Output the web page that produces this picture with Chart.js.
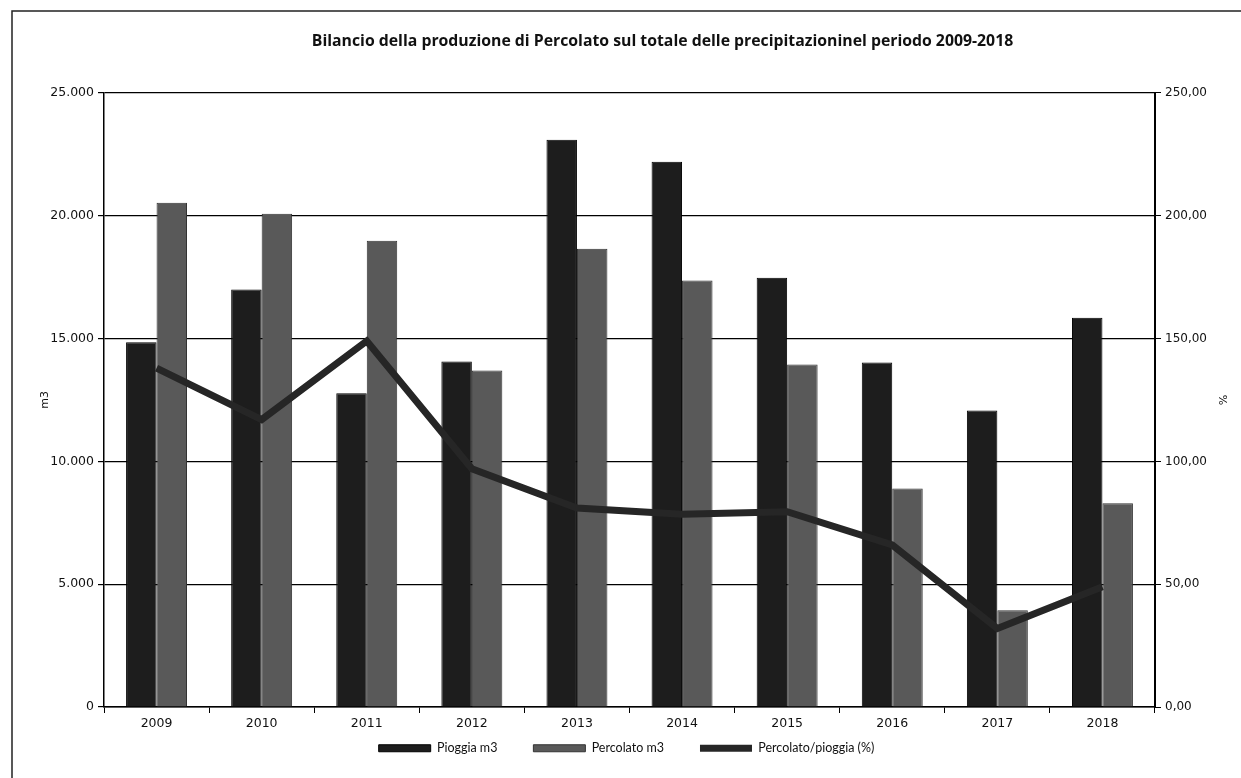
<!DOCTYPE html>
<html><head><meta charset="utf-8">
<script src="https://cdn.jsdelivr.net/npm/chart.js@4.4.1/dist/chart.umd.min.js"></script>
<style>html,body{margin:0;padding:0;background:#fff}#wrap{width:1241px;height:778px;position:relative}</style>
</head><body><div id="wrap"><canvas id="c" width="1241" height="778"></canvas></div>
<script>
const years = ["2009","2010","2011","2012","2013","2014","2015","2016","2017","2018"];
const pioggia = [14850,17000,12770,14070,23090,22200,17480,14030,12070,15850];
const percolato = [20530,20080,18980,13700,18660,17360,13940,8900,3940,8300];
const ratio = [138,117,149,97,81,78.5,79.5,66,32,49];
const leftTicks = [0,5000,10000,15000,20000,25000];
const rightTicks = [0,50,100,150,200,250];

const tickFont = {family:"'DejaVu Sans', Verdana, sans-serif", size:12.5};
const bg = {id:'bg', beforeDraw(c){const x=c.ctx;x.save();x.fillStyle='#fff';x.fillRect(0,0,c.width,c.height);
  x.strokeStyle='#222';x.lineWidth=1.5;x.beginPath();x.moveTo(12,778);x.lineTo(12,11);x.lineTo(1241,11);x.stroke();x.restore();}};
const tweak = {id:'tweak',
  beforeUpdate(c){const lg=c.legend; if(lg && !lg._patched){const orig=lg.fit.bind(lg); lg.fit=function(){orig(); this.height=60;}; lg._patched=true;}},
  afterLayout(c){const t=c.titleBlock; if(t){t.left+=42; t.right+=42;}
    const lg=c.legend; if(lg){const h=lg.bottom-lg.top; lg.top=c.chartArea.bottom-1; lg.bottom=lg.top+h; lg.left+=6; lg.right+=6;}}
};

new Chart(document.getElementById('c'), {
  data: {
    labels: years,
    datasets: [
      {type:'bar', label:'Pioggia m3', data: pioggia, yAxisID:'y', backgroundColor:'#1d1d1d', borderColor:'#000', borderWidth:1, order:1},
      {type:'bar', label:'Percolato m3', data: percolato, yAxisID:'y', backgroundColor:'#595959', borderColor:'#333', borderWidth:1, order:1},
      {type:'line', label:'Percolato/pioggia (%)', data: ratio, yAxisID:'y1', borderColor:'#262626', backgroundColor:'#262626', borderWidth:7, pointRadius:0, tension:0, order:0}
    ]
  },
  options: {
    responsive:false, animation:false,
    categoryPercentage:0.58, barPercentage:1.0,
    layout:{padding:{left:5,right:5,top:10,bottom:-13}},
    plugins:{
      title:{display:true, text:'Bilancio della produzione di Percolato sul totale delle precipitazioninel periodo 2009-2018',
        color:'#111', font:{family:"'Open Sans', Lato, sans-serif", size:15.8, weight:'bold'}, padding:{top:22,bottom:42}},
      legend:{position:'bottom', labels:{color:'#111', font:{family:"Lato, 'Open Sans', sans-serif", size:12.5}, boxWidth:52, boxHeight:7, padding:36,
        generateLabels(chart){return chart.data.datasets.map((d,i)=>({text:d.label, fillStyle:d.backgroundColor, strokeStyle:d.borderColor, lineWidth:i===2?0:1, datasetIndex:i, hidden:false, fontColor:'#111'}))}}},
      tooltip:{enabled:false}
    },
    scales:{
      x:{offset:true, afterFit(s){s.height=24;}, grid:{display:true, drawOnChartArea:false, color:'#000', tickLength:6, offset:true}, border:{color:'#000', width:1.5},
        ticks:{color:'#111', font:tickFont, padding:3}},
      y:{position:'left', min:0, max:25000, afterBuildTicks(s){s.ticks=leftTicks.map(v=>({value:v}));},
        afterFit(s){s.width=99;},
        grid:{color:'#000', lineWidth:1.2, tickLength:6}, border:{color:'#000', width:1.5},
        ticks:{color:'#111', font:tickFont, padding:4, callback:v=>v.toLocaleString('it-IT')},
        title:{display:true, text:'m3', color:'#111', font:{family:"'DejaVu Sans', sans-serif", size:11}, padding:{top:34,bottom:0}}},
      y1:{position:'right', min:0, max:250, afterBuildTicks(s){s.ticks=rightTicks.map(v=>({value:v}));},
        afterFit(s){s.width=81;},
        grid:{drawOnChartArea:false, color:'#000', tickLength:6}, border:{color:'#000', width:2},
        ticks:{color:'#111', font:{family:"'DejaVu Sans', Verdana, sans-serif", size:12}, padding:4, callback:v=>v.toLocaleString('it-IT',{minimumFractionDigits:2,maximumFractionDigits:2})},
        title:{display:true, text:'%', color:'#111', font:{family:"'DejaVu Sans', sans-serif", size:11}, padding:{top:8,bottom:0}}}
    }
  },
  plugins:[bg, tweak]
});
</script></body></html>
